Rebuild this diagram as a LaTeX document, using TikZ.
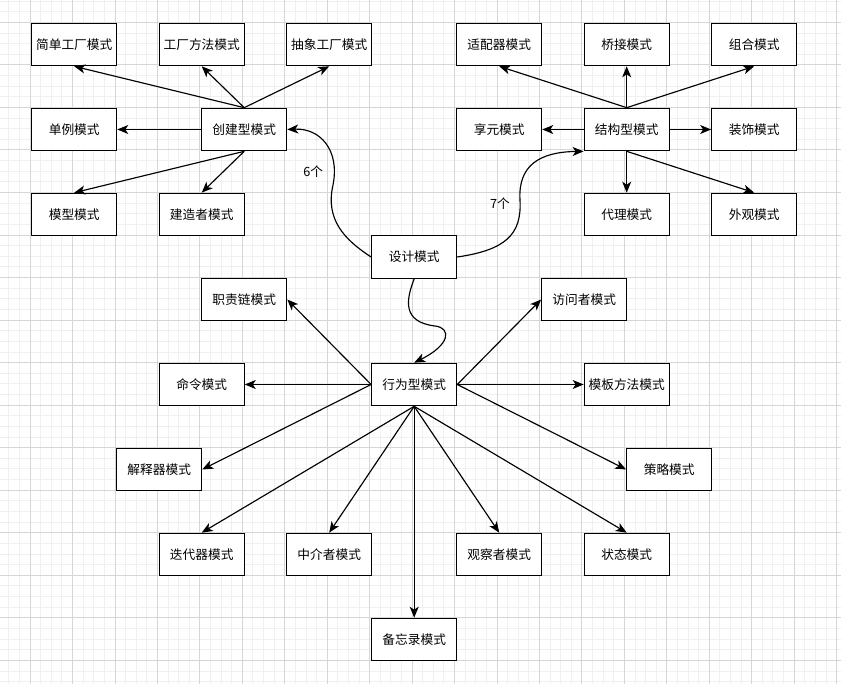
\documentclass[tikz,border=0pt]{standalone}
\usepackage{fontspec}
\newfontfamily\cjk{Noto Sans CJK SC}
\usetikzlibrary{arrows.meta}
\tikzset{
  box/.style={draw=black, line width=1.15pt, fill=white, minimum width=85pt, minimum height=42.5pt, inner sep=0pt, font=\cjk\fontsize{12.7}{15}\selectfont},
  arr/.style={draw=black, line width=1.15pt, -{Stealth[length=11pt,width=9pt,inset=3pt]}},
  lbl/.style={inner sep=0pt, font=\cjk\fontsize{12.7}{15}\selectfont},
  gridminor/.style={draw=black!6, line width=0.8pt},
  gridmajor/.style={draw=black!16, line width=0.8pt}
}
\begin{document}
\begin{tikzpicture}[x=1pt,y=-1pt]
\useasboundingbox (0,0) rectangle (841,684);
\fill[white] (0,0) rectangle (841,684);
\begin{scope}
\clip (0,0) rectangle (841,684);
\foreach \i in {-4,...,80} \draw[gridminor] ({30+\i*10.6125},0) -- ({30+\i*10.6125},684);
\foreach \i in {-4,...,66} \draw[gridminor] (0,{22.3+\i*10.633}) -- (841,{22.3+\i*10.633});
\foreach \i in {-1,...,20} \draw[gridmajor] ({30+\i*42.45},0) -- ({30+\i*42.45},684);
\foreach \i in {-1,...,16} \draw[gridmajor] (0,{22.3+\i*42.53}) -- (841,{22.3+\i*42.53});
\end{scope}

% creational
\node[box] (simple) at (74.2,44.5) {简单工厂模式};
\node[box] (fmethod) at (201.7,44.5) {工厂方法模式};
\node[box] (abstract) at (329.2,44.5) {抽象工厂模式};
\node[box] (single) at (74.2,129.5) {单例模式};
\node[box] (create) at (244.2,129.5) {创建型模式};
\node[box] (proto) at (74.2,214.5) {模型模式};
\node[box] (builder) at (201.7,214.5) {建造者模式};

% structural
\node[box] (adapter) at (499.2,44.5) {适配器模式};
\node[box] (bridge) at (626.7,44.5) {桥接模式};
\node[box] (composite) at (754.2,44.5) {组合模式};
\node[box] (flyweight) at (499.2,129.5) {享元模式};
\node[box] (struct) at (626.7,129.5) {结构型模式};
\node[box] (decorator) at (754.2,129.5) {装饰模式};
\node[box] (proxy) at (626.7,214.5) {代理模式};
\node[box] (facade) at (754.2,214.5) {外观模式};

% root
\node[box] (design) at (414.2,257) {设计模式};

% behavioral
\node[box] (chain) at (244.2,299.5) {职责链模式};
\node[box] (visitor) at (584.2,299.5) {访问者模式};
\node[box] (command) at (201.7,384.5) {命令模式};
\node[box] (behave) at (414.2,384.5) {行为型模式};
\node[box] (template) at (626.7,384.5) {模板方法模式};
\node[box] (interp) at (159.2,469.5) {解释器模式};
\node[box] (strategy) at (669.2,469.5) {策略模式};
\node[box] (iter) at (201.7,554.5) {迭代器模式};
\node[box] (mediator) at (329.2,554.5) {中介者模式};
\node[box] (observer) at (499.2,554.5) {观察者模式};
\node[box] (state) at (626.7,554.5) {状态模式};
\node[box] (memento) at (414.2,639.5) {备忘录模式};

% creational edges
\draw[arr] (create.north) -- (simple.south);
\draw[arr] (create.north) -- (fmethod.south);
\draw[arr] (create.north) -- (abstract.south);
\draw[arr] (create.west) -- (single.east);
\draw[arr] (create.south) -- (proto.north);
\draw[arr] (create.south) -- (builder.north);

% structural edges
\draw[arr] (struct.north) -- (adapter.south);
\draw[arr] (struct.north) -- (bridge.south);
\draw[arr] (struct.north) -- (composite.south);
\draw[arr] (struct.west) -- (flyweight.east);
\draw[arr] (struct.east) -- (decorator.west);
\draw[arr] (struct.south) -- (proxy.north);
\draw[arr] (struct.south) -- (facade.north);

% behavioral edges
\draw[arr] (behave.west) -- (chain.east);
\draw[arr] (behave.west) -- (command.east);
\draw[arr] (behave.west) -- (interp.east);
\draw[arr] (behave.east) -- (visitor.west);
\draw[arr] (behave.east) -- (template.west);
\draw[arr] (behave.east) -- (strategy.west);
\draw[arr] (behave.south) -- (iter.north);
\draw[arr] (behave.south) -- (mediator.north);
\draw[arr] (behave.south) -- (memento.north);
\draw[arr] (behave.south) -- (observer.north);
\draw[arr] (behave.south) -- (state.north);

% curved edges from root
\draw[arr] (design.west) .. controls (345,240) and (325,220) .. (333,185)
  .. controls (340,150) and (320,128) .. (create.east);
\draw[arr] (design.east) .. controls (505,250) and (522,235) .. (520,200)
  .. controls (518,165) and (540,152) .. (struct.south west);
\draw[arr] (design.south) .. controls (406,300) and (402,322) .. (435,326)
  .. controls (452,328) and (450,345) .. (behave.north);

\node[lbl] (n6) at (313.3,171.7) {6个};
\node[lbl] (n7) at (500,203.3) {7个};
\end{tikzpicture}
\end{document}
